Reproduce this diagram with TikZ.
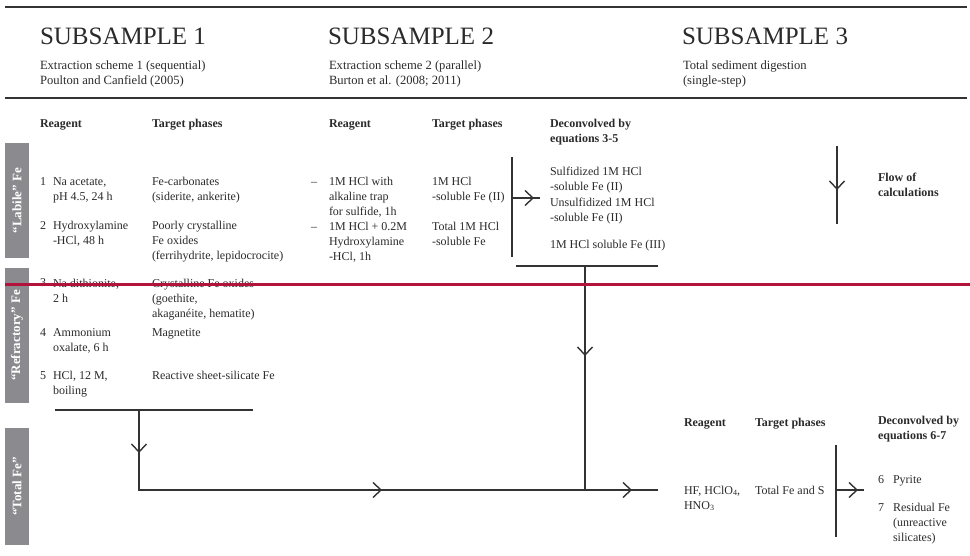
\documentclass[tikz,border=0pt]{standalone}
\usepackage{fontspec}
\setmainfont{Liberation Serif}
\usetikzlibrary{arrows.meta,decorations.markings}
\definecolor{ink}{HTML}{2A2A2A}
\definecolor{lineg}{HTML}{333333}
\definecolor{barg}{HTML}{8B8B8F}
\definecolor{crimson}{HTML}{B3123A}
\newcommand{\sbs}[1]{\raisebox{-0.25ex}{\fontsize{8}{8}\selectfont #1}}
\begin{document}
\begin{tikzpicture}[x=1pt,y=-1pt,
  txt/.style={anchor=base west, inner sep=0pt, outer sep=0pt, align=left, font=\fontsize{12}{15}\selectfont, text=ink},
  hd/.style={txt, font=\fontsize{12}{15}\selectfont\bfseries},
  ttl/.style={txt, font=\fontsize{25}{30}\selectfont},
  sub/.style={txt, font=\fontsize{12.6}{15}\selectfont},
  bartxt/.style={rotate=90, text=white, font=\fontsize{13}{15}\selectfont\bfseries, inner sep=0pt},
  ln/.style={draw=lineg, line width=1.5pt},
  rule/.style={draw=lineg, line width=2pt},
  tipx/.tip={Straight Barb[length=8pt,width=15pt,line width=1.4pt]},
  midarrow/.style={postaction={decorate}, decoration={markings, mark=at position #1 with {\arrow{tipx}}}}
]
\useasboundingbox (0,0) rectangle (970,556);

% rules
\coordinate (r1a) at (5,7); \coordinate (r1b) at (967,7);
\coordinate (r2a) at (5,98); \coordinate (r2b) at (967,98);
\draw[rule] (r1a) -- (r1b);
\draw[rule] (r2a) -- (r2b);

% titles (multi-line nodes are placed by the baseline of their last line)
\node[ttl] (t1) at (40,45) {SUBSAMPLE 1};
\node[ttl] (t2) at (328,45) {SUBSAMPLE 2};
\node[ttl] (t3) at (682,45) {SUBSAMPLE 3};
\node[sub] (s1) at (40,85) {Extraction scheme 1 (sequential)\\Poulton and Canfield (2005)};
\node[sub] (s2) at (329,85) {Extraction scheme 2 (parallel)\\Burton et al. (2008; 2011)};
\node[sub] (s3) at (683,85) {Total sediment digestion\\(single-step)};

% side bars
\fill[barg] (5,143) rectangle (29,258);
\fill[barg] (5,268) rectangle (29,403);
\fill[barg] (5,428) rectangle (29,545);
\node[bartxt] (b1) at (17,200.5) {``Labile'' Fe};
\node[bartxt] (b2) at (17,335.5) {``Refractory'' Fe};
\node[bartxt] (b3) at (17,486.5) {``Total Fe''};

% subsample 1 headers
\node[hd] (h1a) at (40,128) {Reagent};
\node[hd] (h1b) at (152,128) {Target phases};
% rows
\node[txt] (n1) at (40,186) {1};
\node[txt] (r1) at (53,201) {Na acetate,\\pH 4.5, 24 h};
\node[txt] (p1) at (152,201) {Fe-carbonates\\(siderite, ankerite)};
\node[txt] (n2) at (40,230) {2};
\node[txt] (r2) at (53,245) {Hydroxylamine\\-HCl, 48 h};
\node[txt] (p2) at (152,260) {Poorly crystalline\\Fe oxides\\(ferrihydrite, lepidocrocite)};
\node[txt] (n3) at (40,287) {3};
\node[txt] (r3) at (53,302) {Na dithionite,\\2 h};
\node[txt] (p3) at (152,317) {Crystalline Fe oxides\\(goethite,\\akaganéite, hematite)};
\node[txt] (n4) at (40,337) {4};
\node[txt] (r4) at (53,352) {Ammonium\\oxalate, 6 h};
\node[txt] (p4) at (152,337) {Magnetite};
\node[txt] (n5) at (40,379) {5};
\node[txt] (r5) at (53,394) {HCl, 12 M,\\boiling};
\node[txt] (p5) at (152,379) {Reactive sheet-silicate Fe};

% subsample 2
\node[hd] (h2a) at (329,128) {Reagent};
\node[hd] (h2b) at (432,128) {Target phases};
\node[hd] (h2c) at (550,143) {Deconvolved by\\equations 3-5};
\node[txt] (d1) at (311,186) {--};
\node[txt] (q1) at (329,216) {1M HCl with\\alkaline trap\\for sulfide, 1h};
\node[txt] (d2) at (311,231) {--};
\node[txt] (q2) at (329,261) {1M HCl + 0.2M\\Hydroxylamine\\-HCl, 1h};
\node[txt] (u1) at (432,201) {1M HCl\\-soluble Fe (II)};
\node[txt] (u2) at (432,246) {Total 1M HCl\\-soluble Fe};
\node[txt] (v1) at (550,191) {Sulfidized 1M HCl\\-soluble Fe (II)};
\node[txt] (v2) at (550,222) {Unsulfidized 1M HCl\\-soluble Fe (II)};
\node[txt] (v3) at (550,249) {1M HCl soluble Fe (III)};

% flow legend
\node[hd] (fl) at (878,197) {Flow of\\calculations};
\coordinate (fa) at (837,146); \coordinate (fb) at (837,224);
\draw[ln, midarrow=44pt] (fa) -- (fb);

% subsample 3
\node[hd] (h3a) at (684,426) {Reagent};
\node[hd] (h3b) at (755,426) {Target phases};
\node[hd] (h3c) at (878,439) {Deconvolved by\\equations 6-7};
\node[txt] (w1) at (684,509) {HF, HClO\sbs{4},\\HNO\sbs{3}};
\node[txt] (w2) at (755,494) {Total Fe and S};
\node[txt] (n6) at (878,483) {6};
\node[txt] (x6) at (893,483) {Pyrite};
\node[txt] (n7) at (878,511) {7};
\node[txt] (x7) at (893,541) {Residual Fe\\(unreactive\\silicates)};

% connectors subsample 2
\coordinate (k1) at (512,157); \coordinate (k2) at (512,257);
\draw[ln] (k1) -- (k2);
\coordinate (ka) at (512,198); \coordinate (kb) at (540,198);
\draw[ln, midarrow=22pt] (ka) -- (kb);
\coordinate (m1) at (516,266); \coordinate (m2) at (658,266);
\draw[ln] (m1) -- (m2);
\coordinate (mt) at (585,266); \coordinate (mj) at (585,490);
\draw[ln, midarrow=90pt] (mt) -- (mj);

% connectors subsample 1
\coordinate (g1) at (55,410); \coordinate (g2) at (253,410);
\draw[ln] (g1) -- (g2);
\coordinate (gt) at (139,410); \coordinate (gc) at (139,490); \coordinate (ge) at (658,490);
\draw[ln, postaction={decorate}, decoration={markings,
   mark=at position 43pt with {\arrow{tipx}},
   mark=at position 323pt with {\arrow{tipx}},
   mark=at position 573pt with {\arrow{tipx}}}] (gt) -- (gc) -- (ge);

% subsample 3 bracket
\coordinate (z1) at (836,445); \coordinate (z2) at (836,537);
\draw[ln] (z1) -- (z2);
\coordinate (za) at (836,490); \coordinate (zb) at (864,490);
\draw[ln, midarrow=22pt] (za) -- (zb);

% red line
\coordinate (ra) at (5,284.5); \coordinate (rb) at (970,284.5);
\draw[crimson, line width=2.5pt] (ra) -- (rb);
\end{tikzpicture}
\end{document}
